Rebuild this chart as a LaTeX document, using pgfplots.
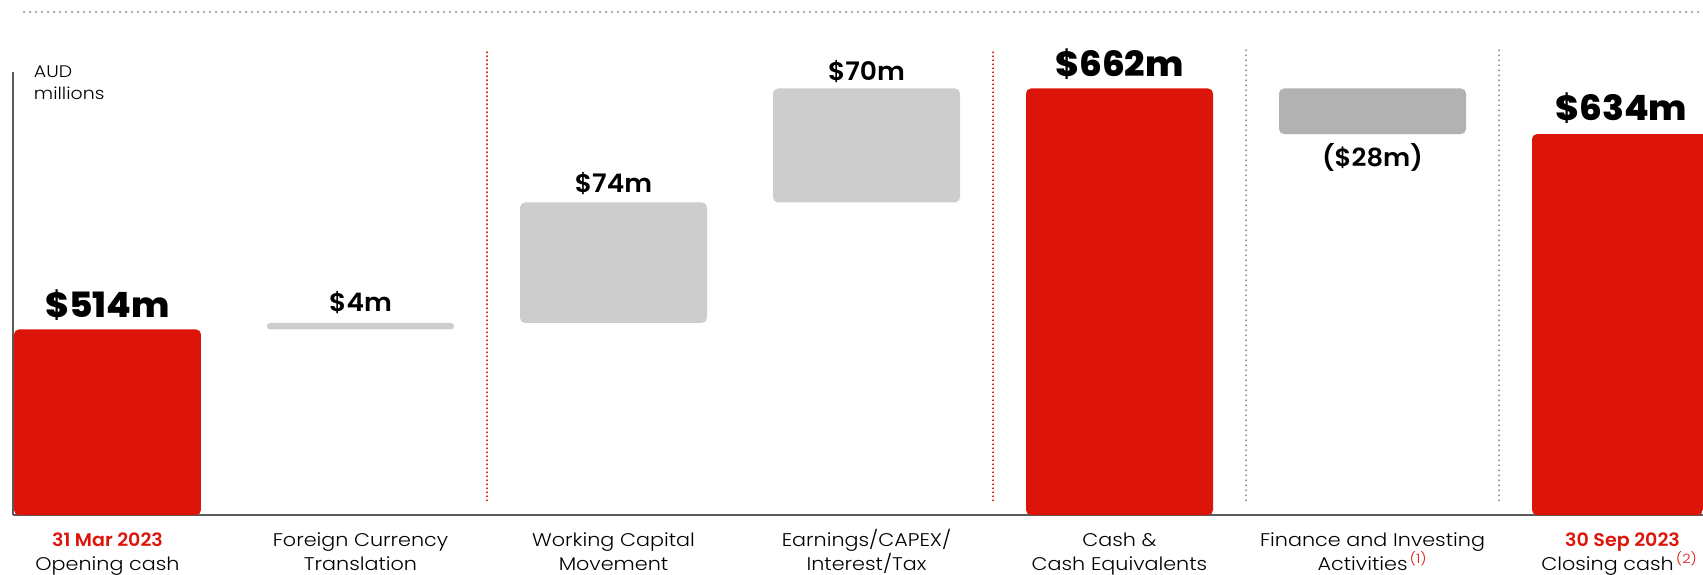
\documentclass[border=0pt]{standalone}
\usepackage{pgfplots}
\pgfplotsset{compat=1.18}
\usepackage{fontspec}
\setmainfont{Poppins}
\newfontfamily\plight[FakeStretch=1.13, BoldFont={Poppins SemiBold}, BoldFeatures={FakeStretch=1.04}]{Poppins Light}
\newfontfamily\psemi[FakeStretch=1.04]{Poppins SemiBold}
\newfontfamily\pxb[FakeStretch=1.03]{Poppins ExtraBold}
\definecolor{bred}{HTML}{DC140A}
\definecolor{lgray}{HTML}{CDCDCD}
\definecolor{dgray}{HTML}{B2B2B2}
\definecolor{axgray}{HTML}{5A5A5A}
\newcommand{\fl}{\vphantom{/(}}
\newcommand{\fn}[1]{\kern1.2bp\smash{\textsuperscript{\color{bred}(#1)}}}
\begin{document}
\begin{tikzpicture}
\begin{axis}[
  x=126.5bp, y=0.814bp,
  xmin=-0.3735, xmax=6.306, ymin=400, ymax=672,
  ybar stacked, bar width=93.5bp,
  axis x line*=bottom, axis y line*=left,
  axis line style={draw=axgray, line width=0.6bp, -},
  xtick={0,1,2,3,4,5,6}, ytick=\empty, major tick length=0pt,
  xticklabels={
    {\fl{\bfseries\color{bred}31 Mar 2023}\\Opening cash},
    {\fl Foreign Currency\\Translation},
    {\fl Working Capital\\Movement},
    {\fl Earnings/CAPEX/\\Interest/Tax},
    {\fl Cash \&\\Cash Equivalents},
    {\fl Finance and Investing\\Activities\fn{1}},
    {\fl{\bfseries\color{bred}30 Sep 2023}\hspace*{3bp}\\Closing cash\fn{2}\hspace*{6bp}}
  },
  xticklabel style={font=\plight\fontsize{9.2}{12.3}\selectfont, align=center, yshift=-3.5bp},
  clip mode=individual,
  every axis plot/.append style={draw=none, rounded corners=2.5bp},
]
\addplot[fill=none] coordinates {(0,400) (1,514) (2,518) (3,592) (4,400) (5,634) (6,400)};
\addplot[fill=bred] coordinates {(0,114) (1,0) (2,0) (3,0) (4,262) (5,0) (6,234)};
\addplot[fill=lgray, rounded corners=1.6bp] coordinates {(0,0) (1,4) (2,0) (3,0) (4,0) (5,0) (6,0)};
\addplot[fill=lgray] coordinates {(0,0) (1,0) (2,74) (3,70) (4,0) (5,0) (6,0)};
\addplot[fill=dgray] coordinates {(0,0) (1,0) (2,0) (3,0) (4,0) (5,28) (6,0)};
\coordinate (BL) at (rel axis cs:0,0);
% separators
\draw[bred, line width=1.1bp, dash pattern=on 0bp off 2bp, line cap=round] (axis cs:1.5,409) -- (axis cs:1.5,686);
\draw[bred, line width=1.1bp, dash pattern=on 0bp off 2bp, line cap=round] (axis cs:3.5,409) -- (axis cs:3.5,686);
\draw[black!45, line width=1.1bp, dash pattern=on 0bp off 2.5bp, line cap=round] (axis cs:4.5,409) -- (axis cs:4.5,686);
\draw[black!45, line width=1.1bp, dash pattern=on 0bp off 2.5bp, line cap=round] (axis cs:5.5,409) -- (axis cs:5.5,686);
\draw[black!35, line width=1.3bp, dash pattern=on 0bp off 3bp, line cap=round] (axis cs:-0.33,709) -- (axis cs:6.306,709);
% value labels
\node[anchor=base, yshift=6bp, font=\pxb\fontsize{17.5}{20}\selectfont] at (axis cs:0,514) {\$514m};
\node[anchor=base, yshift=5.5bp, font=\psemi\fontsize{12.8}{15}\selectfont] at (axis cs:1,518) {\$4m};
\node[anchor=base, yshift=5bp, font=\psemi\fontsize{12.8}{15}\selectfont] at (axis cs:2,592) {\$74m};
\node[anchor=base, yshift=4bp, font=\psemi\fontsize{12.8}{15}\selectfont] at (axis cs:3,662) {\$70m};
\node[anchor=base, yshift=6bp, font=\pxb\fontsize{17.5}{20}\selectfont] at (axis cs:4,662) {\$662m};
\node[anchor=base, yshift=-16bp, font=\psemi\fontsize{12.5}{15}\selectfont] at (axis cs:5,634) {(\$28m)};
\node[anchor=base, xshift=-2bp, yshift=7bp, font=\pxb\fontsize{17.5}{20}\selectfont] at (axis cs:6,634) {\$634m};
% units
\node[anchor=base west, inner sep=0pt, xshift=10.3bp, yshift=-2.5bp, font=\plight\fontsize{8.4}{10}\selectfont] at (rel axis cs:0,1) {AUD};
\node[anchor=base west, inner sep=0pt, xshift=10.3bp, yshift=-13.5bp, font=\plight\fontsize{8.4}{10}\selectfont] at (rel axis cs:0,1) {millions};
\end{axis}
\pgfresetboundingbox
\useasboundingbox ([xshift=-6.5bp,yshift=-30bp]BL) rectangle ++(851.5bp,287.5bp);
\end{tikzpicture}
\end{document}
